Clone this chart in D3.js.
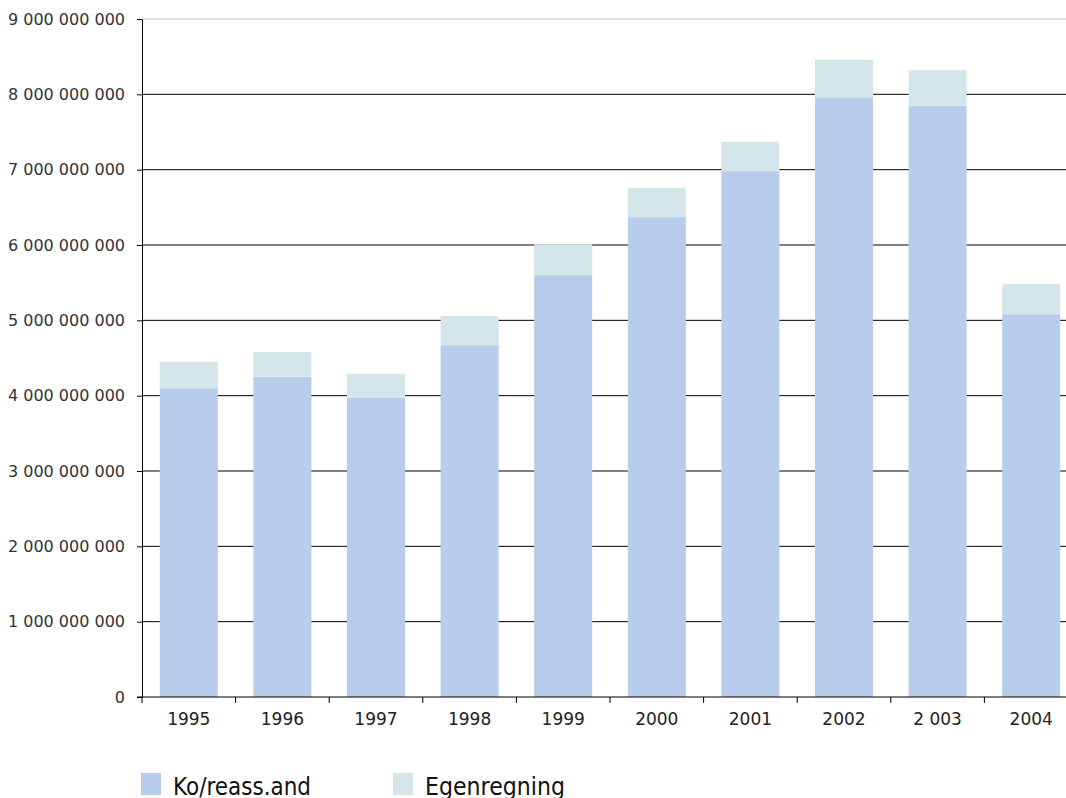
<!DOCTYPE html>
<html>
<head>
<meta charset="utf-8">
<script src="https://cdn.jsdelivr.net/npm/d3@7"></script>
<style>
  body { margin: 0; background: #fff; overflow: hidden; }
  svg { display: block; }
</style>
</head>
<body>
<div id="chart"></div>
<script>
// data
var years = ["1995", "1996", "1997", "1998", "1999", "2000", "2001", "2002", "2 003", "2004"];
var koReass = [4.10e9, 4.25e9, 3.97e9, 4.67e9, 5.60e9, 6.37e9, 6.98e9, 7.96e9, 7.85e9, 5.08e9];
var egen    = [0.35e9, 0.33e9, 0.32e9, 0.39e9, 0.41e9, 0.39e9, 0.39e9, 0.50e9, 0.47e9, 0.40e9];
var yTicks  = [0, 1e9, 2e9, 3e9, 4e9, 5e9, 6e9, 7e9, 8e9, 9e9];
var seriesNames = ["Ko/reass.and", "Egenregning"];
var colors = ["#b8cceb", "#d5e6ea"];

var W = 1066, H = 798;
var margin = {top: 19, left: 142},
    width = 936,   // plot runs past the right edge of the picture
    height = 678;

var svg = d3.select("#chart").append("svg")
    .attr("width", W).attr("height", H);
var g = svg.append("g")
    .attr("transform", "translate(" + margin.left + "," + margin.top + ")");

var x = d3.scaleBand().domain(years).range([0, width]).paddingInner(0.38).paddingOuter(0.19);
var y = d3.scaleLinear().domain([0, 9e9]).range([height, 0]);

var fmt = function(v) { return d3.format(",")(v).replace(/,/g, " "); };

// gridlines
g.selectAll(".grid").data(yTicks.slice(1))
  .enter().append("line")
    .attr("x1", 0).attr("x2", width)
    .attr("y1", function(d) { return y(d); })
    .attr("y2", function(d) { return y(d); })
    .attr("stroke", function(d) { return d == 9e9 ? "#c0c0c0" : "#000"; })
    .attr("stroke-width", 1);

// stacked bars
var rows = years.map(function(yr, i) { return {year: yr, a: koReass[i], b: egen[i]}; });
g.selectAll(".barA").data(rows).enter().append("rect")
    .attr("x", function(d) { return x(d.year); })
    .attr("width", x.bandwidth())
    .attr("y", function(d) { return y(d.a); })
    .attr("height", function(d) { return y(0) - y(d.a); })
    .attr("fill", colors[0]);
g.selectAll(".barB").data(rows).enter().append("rect")
    .attr("x", function(d) { return x(d.year); })
    .attr("width", x.bandwidth())
    .attr("y", function(d) { return y(d.a + d.b); })
    .attr("height", function(d) { return y(d.a) - y(d.a + d.b); })
    .attr("fill", colors[1]);

// Y axis
var yAxis = g.append("g")
    .call(d3.axisLeft(y).tickValues(yTicks).tickFormat(fmt).tickSize(5).tickSizeOuter(0));
yAxis.select(".domain").attr("stroke", "#000");
yAxis.selectAll(".tick line").attr("stroke", "#000");
yAxis.selectAll("text")
    .attr("x", -17)
    .style("font-family", "'DejaVu Sans', sans-serif")
    .style("font-size", "16px")
    .attr("fill", "#333");

// X axis
var xAxis = g.append("g").attr("transform", "translate(0," + height + ")");
xAxis.append("line").attr("x1", -5).attr("x2", width).attr("stroke", "#000");
var edges = years.map(function(d) { return x(d) - x.step() * x.paddingInner() / 2; });
xAxis.selectAll(".xt").data(edges).enter().append("line")
    .attr("x1", function(d) { return d; }).attr("x2", function(d) { return d; })
    .attr("y1", 0).attr("y2", 6).attr("stroke", "#000");
xAxis.selectAll(".xl").data(years).enter().append("text")
    .attr("x", function(d) { return x(d) + x.bandwidth() / 2; })
    .attr("y", 28)
    .attr("text-anchor", "middle")
    .style("font-family", "'DejaVu Sans', sans-serif")
    .style("font-size", "17px")
    .attr("fill", "#222")
    .text(function(d) { return d; });

// legend
var legX = [141, 393];
var legLen = [138, 140];
var leg = svg.selectAll(".leg").data(seriesNames).enter().append("g")
    .attr("transform", function(d, i) { return "translate(" + legX[i] + ",773)"; });
leg.append("rect").attr("width", 20).attr("height", 22)
    .attr("fill", function(d, i) { return colors[i]; });
leg.append("text").attr("x", 32).attr("y", 22)
    .attr("textLength", function(d, i) { return legLen[i]; })
    .attr("lengthAdjust", "spacingAndGlyphs")
    .style("font-family", "'DejaVu Sans', sans-serif")
    .style("font-size", "25px")
    .attr("fill", "#111")
    .text(function(d) { return d; });
</script>
</body>
</html>
